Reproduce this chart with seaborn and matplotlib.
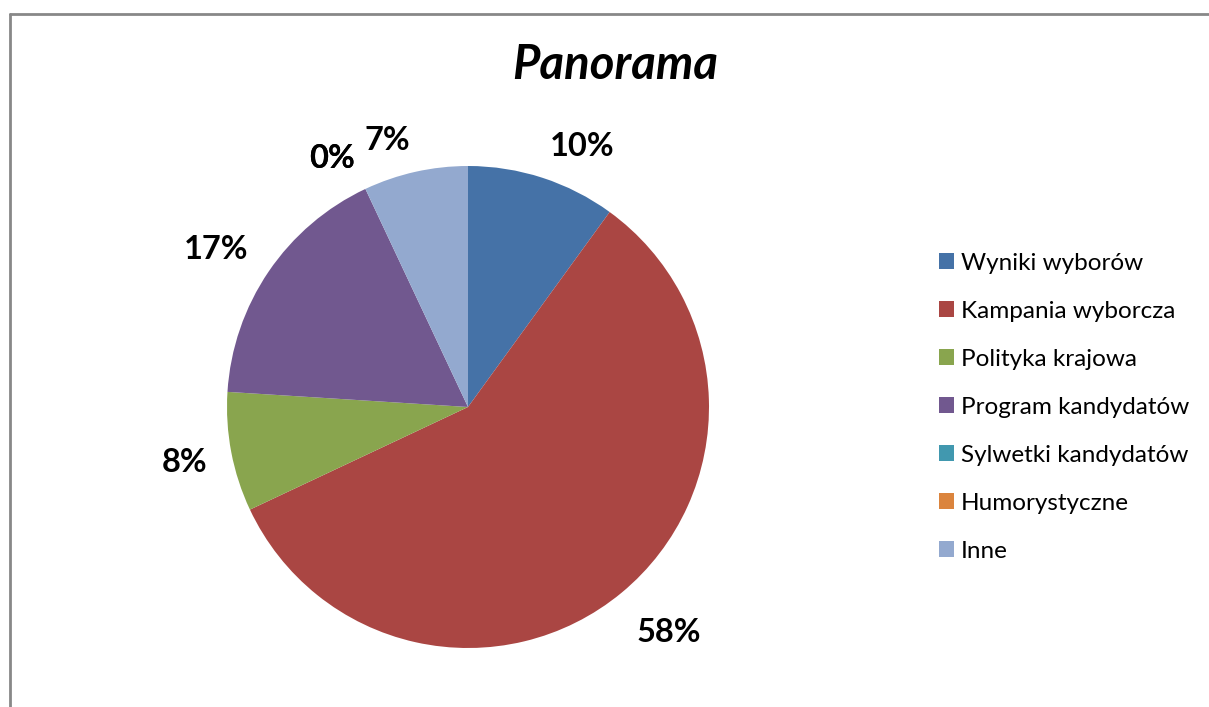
import numpy as np
import matplotlib
matplotlib.use("Agg")
import matplotlib.pyplot as plt
import seaborn as sns

sns.set_style("white")
plt.rcParams["font.family"] = ["Lato", "DejaVu Sans"]
plt.rcParams["text.color"] = "black"

# data
categories = ["Wyniki wyborów", "Kampania wyborcza", "Polityka krajowa",
              "Program kandydatów", "Sylwetki kandydatów", "Humorystyczne", "Inne"]
shares = [10, 58, 8, 17, 0, 0, 7]
colors = ["#4572A7", "#AA4643", "#89A54E", "#71588F", "#4198AF", "#DB843D", "#93A9CF"]

W, H = 1209, 707
fig = plt.figure(figsize=(W / 100, H / 100), dpi=100)

cx, cy, r = 468, 407, 241
span = 1.45
ax = fig.add_axes([(cx - r * span) / W, (H - cy - r * span) / H,
                   2 * r * span / W, 2 * r * span / H])
wedges, _ = ax.pie(shares, colors=colors, startangle=90, counterclock=False,
                   radius=1, wedgeprops=dict(linewidth=0))
ax.set_xlim(-span, span)
ax.set_ylim(-span, span)
ax.set_aspect("equal")
ax.axis("off")

# outside-end labels, aligned away from the pie like Excel does
total = sum(shares)
for w, v in zip(wedges, shares):
    mid = np.deg2rad((w.theta1 + w.theta2) / 2)
    c, s = np.cos(mid), np.sin(mid)
    d = 1.1
    ha = "left" if c > 0 else "right"
    va = "bottom" if s > 0.3 else ("top" if s < -0.3 else "center")
    ax.annotate(f"{round(100 * v / total)}%", xy=(d * c, d * s),
                xytext=(0, -4.5), textcoords="offset points",
                ha=ha, va=va, fontsize=23.5, fontweight="bold",
                color="black", annotation_clip=False)

fig.text(615 / W, 1 - 65 / H, "Panorama", ha="center", va="center",
         fontsize=34, fontweight="bold", fontstyle="italic", color="black")

fig.legend(wedges, categories, loc="upper left",
           bbox_to_anchor=(917 / W, 1 - 231 / H), frameon=False,
           fontsize=17.5, handlelength=0.62, handleheight=0.62,
           handletextpad=0.3, labelspacing=1.11)

# chart border (top and left edges visible)
fig.add_artist(plt.Line2D([10 / W, 1], [1 - 14 / H, 1 - 14 / H],
                          color="#888888", lw=2, transform=fig.transFigure))
fig.add_artist(plt.Line2D([10 / W, 10 / W], [0, 1 - 14 / H],
                          color="#888888", lw=2, transform=fig.transFigure))

fig.savefig("out.png", dpi=100)
